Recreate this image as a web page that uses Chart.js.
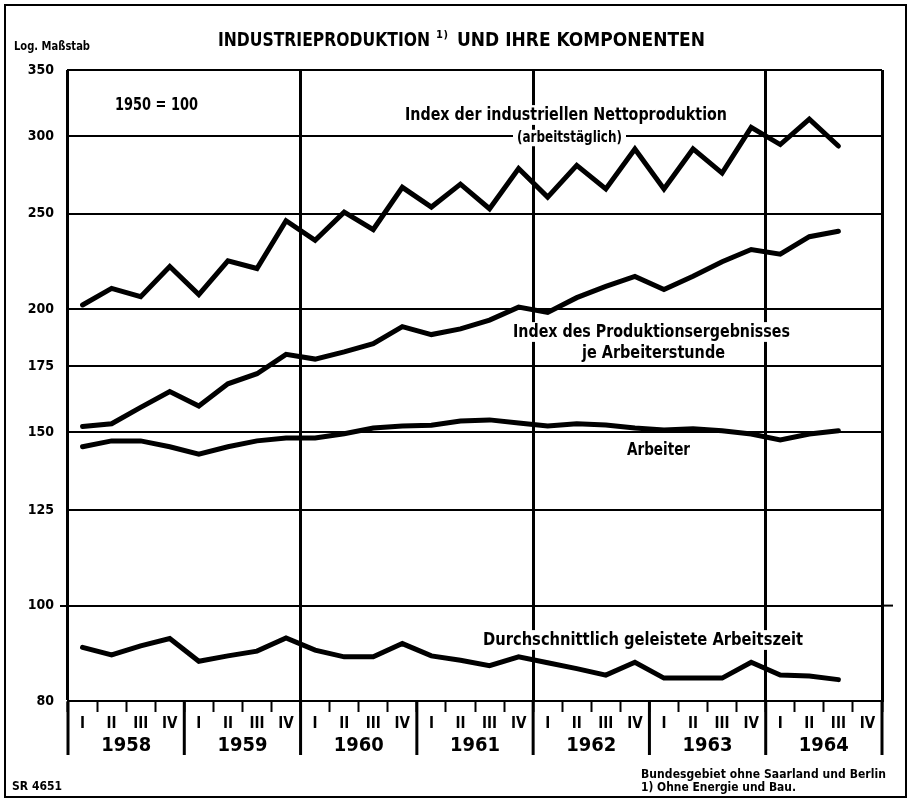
<!DOCTYPE html>
<html lang="de">
<head>
  <meta charset="UTF-8" />
  <title>Industrieproduktion und ihre Komponenten</title>
  <style>
    * { box-sizing: border-box; margin: 0; padding: 0; }
    body { width: 911px; height: 801px; background: #fff; overflow: hidden; }
    canvas { display: block; }
  </style>
</head>
<body>
  <canvas id="chart" width="911" height="801"></canvas>

  <script src="https://cdn.jsdelivr.net/npm/chart.js"></script>
  <script>
    // --- Data (1950 = 100, quarterly) ---
    const years = ['1958', '1959', '1960', '1961', '1962', '1963', '1964'];
    const quarters = ['I', 'II', 'III', 'IV'];
    const yTicks = [80, 100, 125, 150, 175, 200, 250, 300, 350];

    // Index der industriellen Nettoproduktion (arbeitstäglich)
    const nettoproduktion = [
      202, 210, 206, 221,
      207, 224, 220, 246,
      235, 251, 241, 266,
      254, 268, 253, 278,
      260, 280, 265, 291,
      265, 291, 275, 306,
      294, 312, 293, null
    ];
    // Index des Produktionsergebnisses je Arbeiterstunde
    const produktivitaet = [
      152, 153, 159, 165,
      159.5, 168, 172, 180,
      178, 181, 184.5, 192,
      188.5, 191, 195, 201,
      198.5, 205.5, 211, 216,
      209.5, 216, 223.5, 230,
      227.5, 237, 240, null
    ];
    // Arbeiter
    const arbeiter = [
      145, 147, 147, 145,
      142.5, 145, 147, 148,
      148, 149.5, 151.5, 152.2,
      152.5, 154, 154.4, 153.3,
      152.2, 153, 152.6, 151.5,
      150.8, 151.2, 150.5, 149.4,
      147.3, 149.4, 150.5, null
    ];
    // Durchschnittlich geleistete Arbeitszeit
    const arbeitszeit = [
      90.7, 89.1, 91, 92.6,
      87.8, 88.9, 89.9, 92.7,
      90.1, 88.7, 88.7, 91.5,
      88.9, 88, 86.9, 88.7,
      87.5, 86.3, 85, 87.6,
      84.4, 84.4, 84.4, 87.6,
      85, 84.8, 84.1, null
    ];

    const FONT = '"Liberation Sans Narrow", "DejaVu Sans Condensed", "Arial Narrow", sans-serif';
    const labels = years.flatMap(() => quarters);

    // draws bold text stretched / spaced to a given width
    function label(ctx, text, x, y, size, width, opts = {}) {
      ctx.save();
      ctx.font = `bold ${size}px ${FONT}`;
      ctx.textBaseline = 'middle';
      ctx.textAlign = 'left';
      ctx.fillStyle = '#000';
      const w = ctx.measureText(text).width;
      const left = opts.left ? x : x - width / 2;
      if (opts.bg) {
        ctx.fillStyle = '#fff';
        ctx.fillRect(left - 4, y - size * 0.55, width + 8, size * 1.1);
        ctx.fillStyle = '#000';
      }
      if (width >= w) {
        ctx.letterSpacing = ((width - w) / Math.max(text.length - 1, 1)) + 'px';
        ctx.fillText(text, left, y);
      } else {
        ctx.translate(left, y);
        ctx.scale(width / w, 1);
        ctx.fillText(text, 0, 0);
      }
      ctx.restore();
    }

    const decor = {
      id: 'decor',
      afterDraw(chart) {
        const ctx = chart.ctx;
        const xs = chart.scales.x, ys = chart.scales.y;
        const area = chart.chartArea;
        const step = xs.getPixelForValue(1) - xs.getPixelForValue(0);
        const edge = i => xs.getPixelForValue(0) - step / 2 + i * step;

        ctx.save();
        ctx.strokeStyle = '#000';

        // outer frame
        ctx.lineWidth = 2;
        ctx.strokeRect(5, 5, 901, 792);

        // 100 line runs out past the right border
        const y100 = ys.getPixelForValue(100);
        ctx.beginPath();
        ctx.moveTo(area.right, y100);
        ctx.lineTo(area.right + 11, y100);
        ctx.stroke();

        // year separators below the plot
        ctx.lineWidth = 3;
        for (let k = 0; k <= years.length; k++) {
          const x = edge(k * 4);
          ctx.beginPath();
          ctx.moveTo(x, area.bottom);
          ctx.lineTo(x, area.bottom + 54);
          ctx.stroke();
        }
        ctx.restore();

        // year labels
        years.forEach((yr, k) => {
          const cx = (edge(k * 4) + edge(k * 4 + 4)) / 2;
          label(ctx, yr, cx, area.bottom + 45, 20, 50);
        });

        // title and headers
        label(ctx, 'INDUSTRIEPRODUKTION', 218, 41, 19, 212, { left: true });
        label(ctx, '1)', 436, 35, 11, 12, { left: true });
        label(ctx, 'UND IHRE KOMPONENTEN', 457, 41, 19, 248, { left: true });
        label(ctx, 'Log. Maßstab', 14, 47, 13, 76, { left: true });

        // labels inside the plot
        label(ctx, '1950 = 100', 115, 106, 17, 83, { left: true });
        label(ctx, 'Index der industriellen Nettoproduktion', 405, 115, 18, 322, { left: true, bg: true });
        label(ctx, '(arbeitstäglich)', 517, 138, 15, 105, { left: true, bg: true });
        label(ctx, 'Index des Produktionsergebnisses', 513, 332, 18, 277, { left: true, bg: true });
        label(ctx, 'je Arbeiterstunde', 582, 353, 18, 143, { left: true });
        label(ctx, 'Arbeiter', 627, 450, 18, 63, { left: true });
        label(ctx, 'Durchschnittlich geleistete Arbeitszeit', 483, 640, 18, 320, { left: true, bg: true });

        // footer
        label(ctx, 'SR 4651', 12, 787, 12, 50, { left: true });
        label(ctx, 'Bundesgebiet ohne Saarland und Berlin', 641, 775, 12, 245, { left: true });
        label(ctx, '1) Ohne Energie und Bau.', 641, 788, 12, 155, { left: true });
      }
    };

    const lineStyle = {
      borderColor: '#000',
      borderWidth: 5,
      pointRadius: 0,
      tension: 0,
      fill: false,
      borderJoinStyle: 'miter',
      borderCapStyle: 'round',
      spanGaps: false
    };

    new Chart(document.getElementById('chart'), {
      type: 'line',
      data: {
        labels: labels,
        datasets: [
          { label: 'Index der industriellen Nettoproduktion', data: nettoproduktion, ...lineStyle },
          { label: 'Index des Produktionsergebnisses je Arbeiterstunde', data: produktivitaet, ...lineStyle },
          { label: 'Arbeiter', data: arbeiter, ...lineStyle },
          { label: 'Durchschnittlich geleistete Arbeitszeit', data: arbeitszeit, ...lineStyle }
        ]
      },
      options: {
        responsive: false,
        animation: false,
        layout: { padding: { top: 70, right: 29, left: 0, bottom: 0 } },
        plugins: {
          legend: { display: false },
          tooltip: { enabled: false },
          title: { display: false }
        },
        scales: {
          x: {
            type: 'category',
            offset: true,
            grid: {
              offset: true,
              lineWidth: 3,
              color: c => (c.index === undefined || c.index % 8 === 0) ? '#000' : 'rgba(0,0,0,0)',
              tickColor: '#000',
              tickLength: 11,
              tickWidth: 2
            },
            border: { display: true, color: '#000', width: 2 },
            ticks: {
              color: '#000',
              font: { family: FONT, size: 15, weight: 'bold' },
              padding: 3,
              maxRotation: 0,
              autoSkip: false
            },
            afterFit: s => { s.height = 100; }
          },
          y: {
            type: 'logarithmic',
            min: 80,
            max: 350,
            afterBuildTicks: s => { s.ticks = yTicks.map(v => ({ value: v })); },
            grid: {
              color: '#000',
              lineWidth: 2,
              tickLength: 8,
              tickColor: c => (c.tick && c.tick.value === 100) ? '#000' : 'rgba(0,0,0,0)'
            },
            border: { display: true, color: '#000', width: 2 },
            ticks: {
              color: '#000',
              font: { family: FONT, size: 14, weight: 'bold' },
              padding: 6,
              autoSkip: false,
              callback: v => String(v)
            },
            afterFit: s => { s.width = 68; }
          }
        }
      },
      plugins: [decor]
    });
  </script>
</body>
</html>
